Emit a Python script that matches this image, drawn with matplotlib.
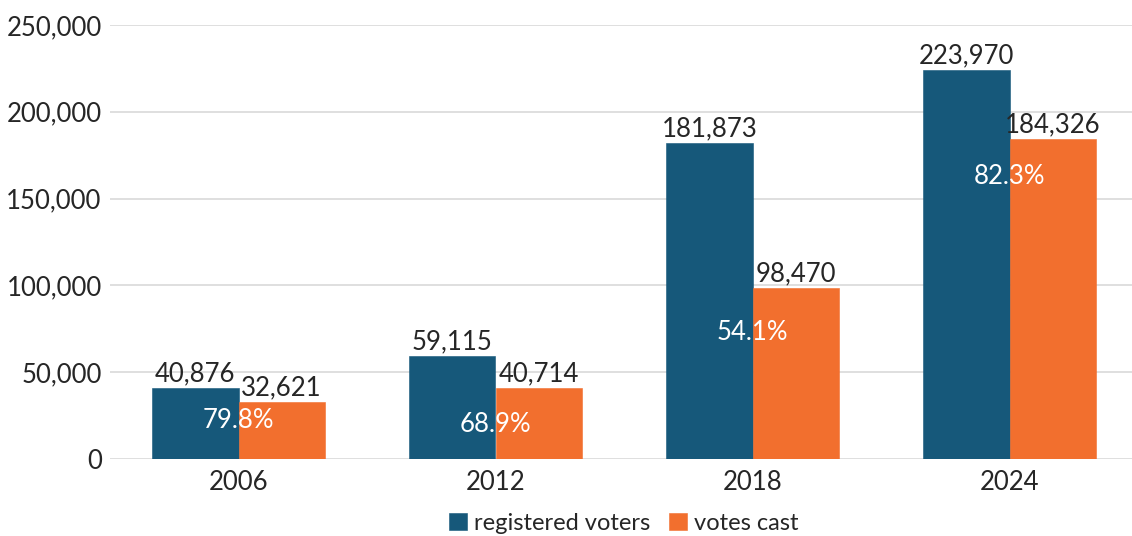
import numpy as np
import matplotlib.pyplot as plt
from matplotlib.ticker import FuncFormatter

years = ['2006', '2012', '2018', '2024']
registered = [40876, 59115, 181873, 223970]
cast = [32621, 40714, 98470, 184326]
# height at which each turnout label sits
turnout_y = [22000, 19600, 72600, 163000]

blue = '#16587a'
orange = '#f26f2e'
textc = '#262626'

plt.rcParams['font.family'] = ['Lato', 'DejaVu Sans']

fig = plt.figure(figsize=(11.32, 5.36), dpi=100)
ax = fig.add_axes([110 / 1132, (536 - 459) / 536, 1028 / 1132, 434 / 536])

x = np.arange(len(years))
w = 0.335
b1 = ax.bar(x - w / 2, registered, w, color=blue, edgecolor=blue, linewidth=0.4,
            label='registered voters', zorder=3)
b2 = ax.bar(x + w / 2, cast, w, color=orange, edgecolor=orange, linewidth=0.4,
            label='votes cast', zorder=3)

for rect, v in zip(b1, registered):
    ax.text(rect.get_x() + rect.get_width() / 2, v + 1200, f'{v:,}',
            ha='center', va='bottom', fontsize=18.5, color=textc)
for rect, v in zip(b2, cast):
    ax.text(rect.get_x() + rect.get_width() / 2, v + 1200, f'{v:,}',
            ha='center', va='bottom', fontsize=18.5, color=textc)

for i in range(len(years)):
    pct = cast[i] / registered[i] * 100
    ax.text(x[i], turnout_y[i], f'{pct:.1f}%', ha='center', va='center',
            fontsize=18.5, color='white', zorder=4)

ax.set_xlim(-0.5, 3.5)
ax.set_ylim(0, 250000)
ax.set_yticks(np.arange(0, 250001, 50000))
ax.yaxis.set_major_formatter(FuncFormatter(lambda v, p: f'{int(v):,}'))
ax.set_xticks(x)
ax.set_xticklabels(years)
ax.tick_params(length=0, labelsize=18.5, colors=textc)
ax.tick_params(axis='y', pad=6)
ax.tick_params(axis='x', pad=8)
ax.grid(axis='y', color='#d9d9d9', linewidth=1.2, zorder=0)
for s in ax.spines.values():
    s.set_visible(False)

ax.legend(loc='center', bbox_to_anchor=(0.5, -0.148), ncol=2,
          frameon=False, fontsize=17, handlelength=0.75, handleheight=0.75,
          handletextpad=0.3, columnspacing=0.8, labelcolor=textc)

fig.savefig('out.png', dpi=100)
